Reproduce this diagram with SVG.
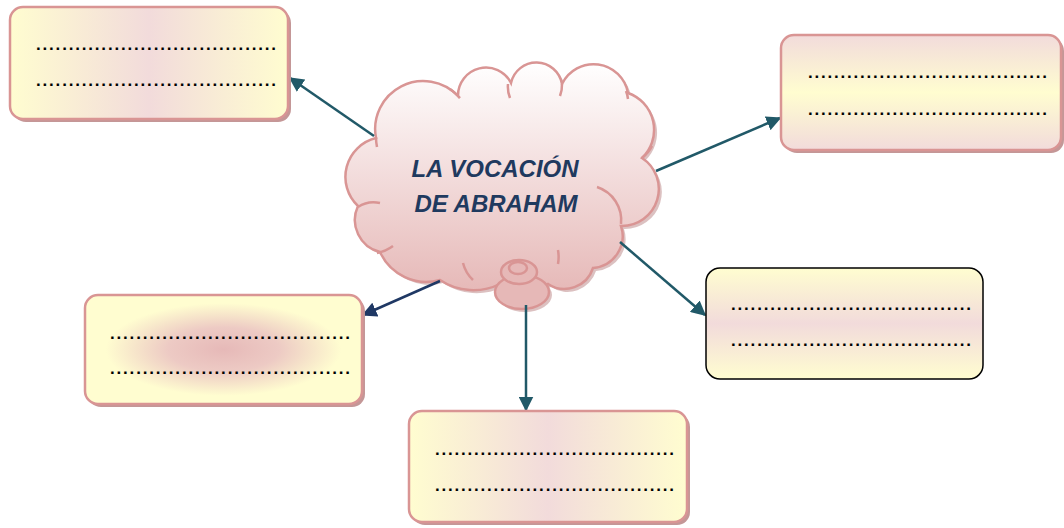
<svg xmlns="http://www.w3.org/2000/svg" width="1064" height="528" viewBox="0 0 1064 528">
<defs>
<linearGradient id="gH" x1="0" y1="0" x2="1" y2="0">
<stop offset="0" stop-color="#FFFDD0"/><stop offset="0.5" stop-color="#F2DBDB"/><stop offset="1" stop-color="#FFFDD0"/>
</linearGradient>
<linearGradient id="gV" x1="0" y1="0" x2="0" y2="1">
<stop offset="0" stop-color="#F2DBDB"/><stop offset="0.5" stop-color="#FFFDD0"/><stop offset="1" stop-color="#F2DBDB"/>
</linearGradient>
<linearGradient id="gV2" x1="0" y1="0" x2="0" y2="1">
<stop offset="0" stop-color="#FFFDD0"/><stop offset="0.5" stop-color="#F2DBDB"/><stop offset="1" stop-color="#FFFDD0"/>
</linearGradient>
<radialGradient id="gR" cx="0.5" cy="0.5" r="0.5">
<stop offset="0" stop-color="#E6B9B8"/><stop offset="0.4" stop-color="#EDCAC4"/><stop offset="0.85" stop-color="#FFFDD0"/><stop offset="1" stop-color="#FFFDD0"/>
</radialGradient>
<linearGradient id="gC" x1="0" y1="0" x2="0" y2="1">
<stop offset="0" stop-color="#FFFFFF"/><stop offset="1" stop-color="#E6B9B8"/>
</linearGradient>
<marker id="ah" viewBox="0 0 10 10" refX="9" refY="5" markerWidth="6" markerHeight="6" markerUnits="strokeWidth" orient="auto">
<path d="M0,0 L10,5 L0,10 z" fill="#215968"/>
</marker>
<marker id="ahn" viewBox="0 0 10 10" refX="9" refY="5" markerWidth="6" markerHeight="6" markerUnits="strokeWidth" orient="auto">
<path d="M0,0 L10,5 L0,10 z" fill="#1F3864"/>
</marker>
</defs>
<style>
.sh{fill:#C49797;}
.bx{stroke:#D99594;stroke-width:2.5;}
.dots{font-family:"Liberation Sans",Arial,sans-serif;font-weight:bold;font-size:17px;fill:#000;}
.cl{stroke:#D99594;stroke-width:2.5;}
.inner{fill:none;stroke:#D99594;stroke-width:2.5;}
.title{font-family:"Liberation Sans",Arial,sans-serif;font-weight:bold;font-style:italic;font-size:24px;fill:#1F3A5F;text-anchor:middle;}
.cn{fill:none;stroke:#215968;stroke-width:2.5;}
</style>

<g id="cloud">
<path transform="translate(3,3)" fill="#C49797" opacity="0.6" d="M376,138 A48,48 0 0 1 458,96 A28,28 0 0 1 511,83 A26,26 0 0 1 562,84 A35,35 0 0 1 628,93 A39,39 0 0 1 642,158 A37,37 0 0 1 621,226 A32,32 0 0 1 593,268 A30,30 0 0 1 548,284 A60,60 0 0 1 500,284 A60,60 0 0 1 440,280 A51,51 0 0 1 380,252 A33,33 0 0 1 358,206 A40,40 0 0 1 376,138 Z"/>
<path class="cl" fill="url(#gC)" d="M376,138 A48,48 0 0 1 458,96 A28,28 0 0 1 511,83 A26,26 0 0 1 562,84 A35,35 0 0 1 628,93 A39,39 0 0 1 642,158 A37,37 0 0 1 621,226 A32,32 0 0 1 593,268 A30,30 0 0 1 548,284 A60,60 0 0 1 500,284 A60,60 0 0 1 440,280 A51,51 0 0 1 380,252 A33,33 0 0 1 358,206 A40,40 0 0 1 376,138 Z"/>
<path class="inner" d="M597,187 A35,35 0 0 1 621,224"/>
<path class="inner" d="M642,158 A36,36 0 0 0 652,146"/>
<path class="inner" d="M380,203 A28,28 0 0 0 358,207"/>
<path class="inner" d="M463,263 A35,35 0 0 0 473,280"/>
<path class="inner" d="M558,250 A40,40 0 0 1 558,264"/>
<path class="inner" d="M450,89 A48,48 0 0 1 460,98"/>
<path class="inner" d="M508,84 A30,30 0 0 0 510,98"/>
<path class="inner" d="M562,84 A30,30 0 0 1 560,96"/>
<path class="inner" d="M626,91 A30,30 0 0 1 628,99"/>
<path class="inner" d="M376,137 A48,48 0 0 0 377,147"/>
<path class="inner" d="M393,246 A40,40 0 0 1 377,253"/>
<ellipse cx="525" cy="295" rx="27" ry="17" fill="#C49797" opacity="0.6"/>
<ellipse cx="522" cy="292" rx="27" ry="17" class="cl" fill="#E6B8B7"/>
<ellipse cx="519" cy="272" rx="18" ry="12" class="cl" fill="#E6B8B7"/>
<ellipse cx="518" cy="268" rx="9" ry="6" class="cl" fill="#E6B8B7"/>
<text class="title" x="495" y="177">LA VOCACIÓN</text>
<text class="title" x="496" y="212">DE ABRAHAM</text>
</g>

<g id="connectors">
<line class="cn" x1="374" y1="136" x2="290" y2="78" marker-end="url(#ah)"/>
<line class="cn" x1="656" y1="171" x2="780" y2="118" marker-end="url(#ah)"/>
<line class="cn" x1="620" y1="242" x2="705" y2="315" marker-end="url(#ah)"/>
<line class="cn" x1="440" y1="281" x2="363" y2="315" style="stroke:#1F3864" marker-end="url(#ahn)"/>
<line class="cn" x1="526" y1="305" x2="526" y2="410" marker-end="url(#ah)"/>
</g>

<g id="box-top-left">
<rect class="sh" x="13" y="10" width="278" height="112" rx="13"/>
<rect class="bx" x="10" y="7" width="278" height="112" rx="13" fill="url(#gH)"/>
<text class="dots" x="36" y="50" textLength="240" lengthAdjust="spacing">.....................................</text>
<text class="dots" x="36" y="86" textLength="240" lengthAdjust="spacing">.....................................</text>
</g>

<g id="box-top-right">
<rect class="sh" x="784" y="38" width="280" height="115" rx="13"/>
<rect class="bx" x="781" y="35" width="280" height="115" rx="13" fill="url(#gV)"/>
<text class="dots" x="808" y="78" textLength="239" lengthAdjust="spacing">.....................................</text>
<text class="dots" x="808" y="115" textLength="239" lengthAdjust="spacing">.....................................</text>
</g>

<g id="box-mid-right">
<rect x="706" y="268" width="277" height="111" rx="14" fill="url(#gV2)" stroke="#000" stroke-width="1.5"/>
<text class="dots" x="731" y="310" textLength="240" lengthAdjust="spacing">.....................................</text>
<text class="dots" x="731" y="346" textLength="240" lengthAdjust="spacing">.....................................</text>
</g>

<g id="box-mid-left">
<rect class="sh" x="88" y="298" width="277" height="109" rx="13"/>
<rect class="bx" x="85" y="295" width="277" height="109" rx="13" fill="url(#gR)"/>
<text class="dots" x="110" y="339" textLength="240" lengthAdjust="spacing">.....................................</text>
<text class="dots" x="110" y="374" textLength="240" lengthAdjust="spacing">.....................................</text>
</g>

<g id="box-bottom">
<rect class="sh" x="412" y="414" width="278" height="111" rx="13"/>
<rect class="bx" x="409" y="411" width="278" height="111" rx="13" fill="url(#gH)"/>
<text class="dots" x="435" y="455" textLength="239" lengthAdjust="spacing">.....................................</text>
<text class="dots" x="435" y="491" textLength="239" lengthAdjust="spacing">.....................................</text>
</g>
</svg>
